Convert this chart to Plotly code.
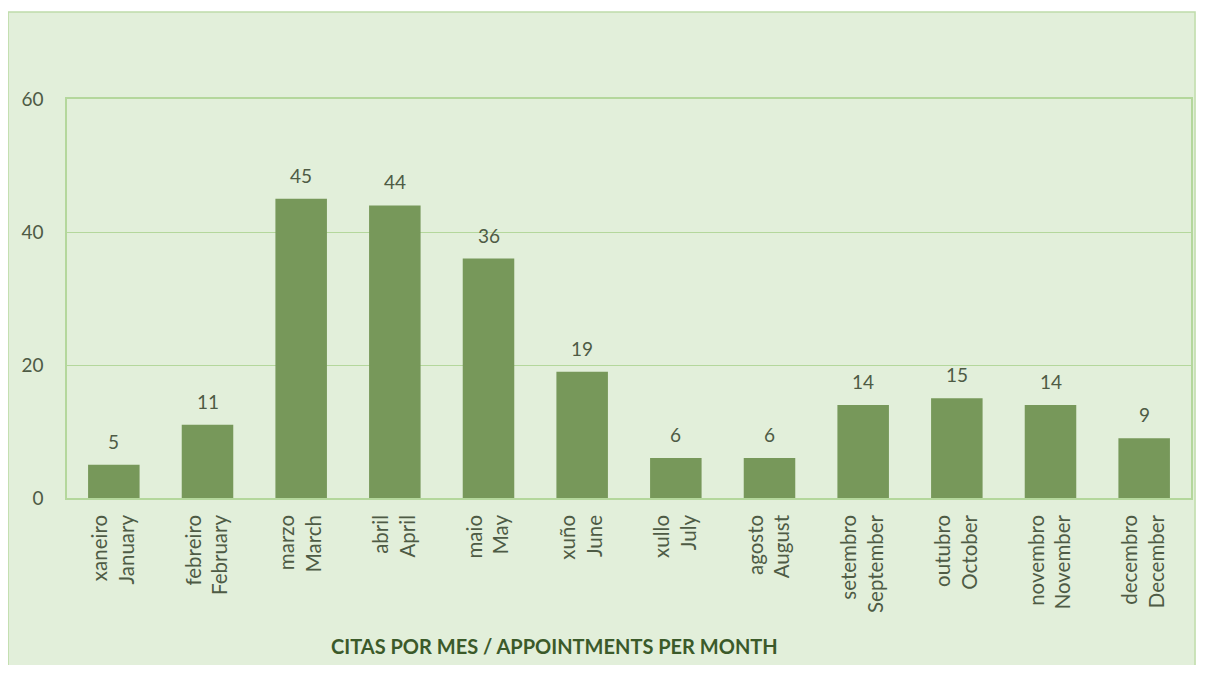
import plotly.graph_objects as go

# Citas por mes / appointments per month
galician = ['xaneiro', 'febreiro', 'marzo', 'abril', 'maio', 'xuño',
            'xullo', 'agosto', 'setembro', 'outubro', 'novembro', 'decembro']
english = ['January', 'February', 'March', 'April', 'May', 'June',
           'July', 'August', 'September', 'October', 'November', 'December']
citas = [5, 11, 45, 44, 36, 19, 6, 6, 14, 15, 14, 9]

labels = [g + '<br>' + e for g, e in zip(galician, english)]

bar_color = '#77985A'
bg_color = '#E2EFDA'
grid_color = '#B4D79C'
text_color = '#4E5B45'
font = 'Lato, "Open Sans", sans-serif'

fig = go.Figure(go.Bar(
    x=labels,
    y=citas,
    marker=dict(color=bar_color, line=dict(width=0)),
    width=0.55,
))

# value labels above the bars, a bit further up than plotly's own
for lab, v in zip(labels, citas):
    fig.add_annotation(x=lab, y=v, text=str(v), showarrow=False,
                       yanchor='bottom', yshift=10,
                       font=dict(size=19, color=text_color, family=font))

# outer light-green chart box, in paper coords relative to the plot area
fig.add_shape(type='rect', xref='paper', yref='paper',
              x0=-0.0524, x1=1.0036, y0=-0.45, y1=1.218,
              fillcolor=bg_color, line=dict(color='#BFDCAA', width=1.5),
              layer='below')

fig.add_annotation(text='<b>CITAS POR MES / APPOINTMENTS PER MONTH</b>',
                   xref='paper', yref='paper', x=0.434, y=-0.405,
                   showarrow=False,
                   font=dict(size=20, color='#3B5A2A', family=font))

# the page body has an 8px margin, so the figure is 16px smaller
fig.update_layout(
    width=1190, height=657,
    margin=dict(l=59, r=5, t=91, b=167),
    paper_bgcolor='white',
    plot_bgcolor=bg_color,
    showlegend=False,
    font=dict(family=font, color=text_color, size=19),
)
fig.update_xaxes(tickangle=-90, showline=True, mirror=True,
                 linecolor=grid_color, linewidth=1.5, showgrid=False,
                 ticks='', ticklabelstandoff=7,
                 tickfont=dict(size=20.5, color=text_color))
fig.update_yaxes(range=[0, 60], dtick=20, showline=True, mirror=True,
                 linecolor=grid_color, linewidth=1.5, gridcolor=grid_color,
                 gridwidth=1.2, zeroline=False, ticks='',
                 ticklabelstandoff=18,
                 tickfont=dict(size=19, color=text_color))

fig.write_html("out.html")
